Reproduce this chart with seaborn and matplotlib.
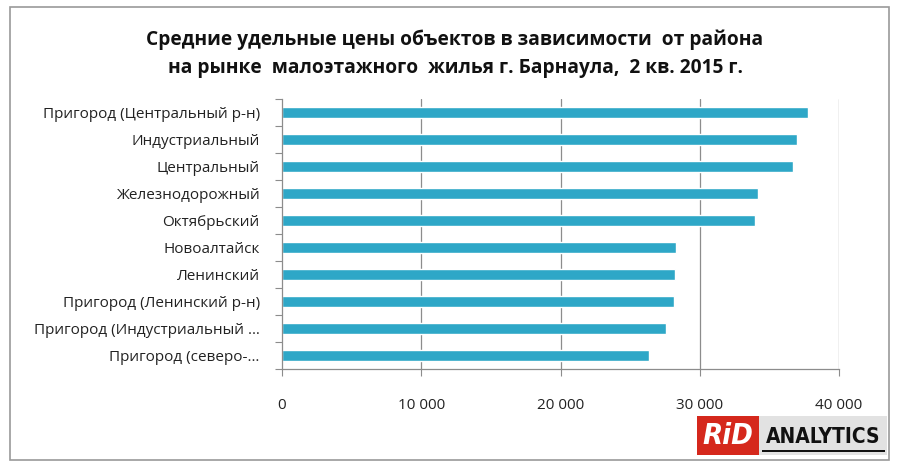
import matplotlib
matplotlib.use("Agg")
import matplotlib.pyplot as plt
import seaborn as sns
import pandas as pd
from matplotlib.patches import Rectangle
from matplotlib.ticker import FixedLocator, FuncFormatter

districts = [
    "Пригород (Центральный р-н)",
    "Индустриальный",
    "Центральный",
    "Железнодорожный",
    "Октябрьский",
    "Новоалтайск",
    "Ленинский",
    "Пригород (Ленинский р-н)",
    "Пригород (Индустриальный …",
    "Пригород (северо-…",
]
prices = [37800, 36980, 36670, 34160, 33970, 28290, 28200, 28170, 27580, 26380]
x_ticks = [0, 10000, 20000, 30000, 40000]

title = ("Средние удельные цены объектов в зависимости  от района\n"
         "на рынке  малоэтажного  жилья г. Барнаула,  2 кв. 2015 г.")

sns.set_theme(style="white")
plt.rcParams["font.family"] = ["Open Sans", "DejaVu Sans"]

df = pd.DataFrame({"district": districts, "price": prices})

fig = plt.figure(figsize=(9, 4.66), dpi=100)
ax = fig.add_axes([282/900, 1 - 369/466, (839-282)/900, (369-99)/466])

sns.barplot(data=df, y="district", x="price", orient="h", color="#2ea7c7",
            saturation=1, width=0.44, ax=ax, order=districts)

ax.set_xlim(0, 40000)
ax.set_ylim(9.5, -0.5)
ax.set_xlabel("")
ax.set_ylabel("")

ax.xaxis.set_major_locator(FixedLocator(x_ticks))
ax.xaxis.set_major_formatter(FuncFormatter(lambda v, p: f"{int(v):,}".replace(",", " ")))
ax.tick_params(axis="x", which="major", direction="out", length=5, width=0.8,
               color="#8c8c8c", pad=16, labelsize=11, labelcolor="#222222", bottom=True)
ax.set_yticks(range(len(districts)))
ax.set_yticklabels(districts)
ax.tick_params(axis="y", which="major", length=0, pad=16, labelsize=11, labelcolor="#222222")
ax.yaxis.set_minor_locator(FixedLocator([i - 0.5 for i in range(len(districts) + 1)]))
ax.tick_params(axis="y", which="minor", direction="out", length=5, width=0.8,
               color="#8c8c8c", left=True)

for v in x_ticks[1:]:
    ax.axvline(v, color="#8c8c8c", lw=0.9, zorder=0)

for s in ["top", "right"]:
    ax.spines[s].set_visible(False)
for s in ["left", "bottom"]:
    ax.spines[s].set_color("#8c8c8c")
    ax.spines[s].set_linewidth(0.9)

fig.text(455/900, 1 - 54/466, title, ha="center", va="center", fontsize=13.8,
         fontweight="bold", color="#111111", linespacing=1.55)

# outer chart border
fig.add_artist(Rectangle((10/900, 1 - 460/466), 879/900, 453/466,
                         transform=fig.transFigure, fill=False,
                         edgecolor="#9a9a9a", lw=1.2))

# logo
fig.add_artist(Rectangle((697/900, 1 - 455/466), 62/900, 39/466,
                         transform=fig.transFigure, facecolor="#d5281c",
                         edgecolor="none"))
fig.add_artist(Rectangle((759/900, 1 - 455/466), 128/900, 39/466,
                         transform=fig.transFigure, facecolor="#e2e2e2",
                         edgecolor="none"))
fig.add_artist(Rectangle((762/900, 1 - 452/466), 123/900, 2.5/466,
                         transform=fig.transFigure, facecolor="#111111",
                         edgecolor="none"))
fig.text(728/900, 1 - 436/466, "RiD", ha="center", va="center", fontsize=21,
         fontweight="bold", fontstyle="italic", color="white",
         family="DejaVu Sans", fontstretch="condensed")
fig.text(823/900, 1 - 437/466, "ANALYTICS", ha="center", va="center", fontsize=15,
         fontweight="bold", color="#111111",
         family="DejaVu Sans", fontstretch="condensed")

fig.savefig("out.png", dpi=100)
